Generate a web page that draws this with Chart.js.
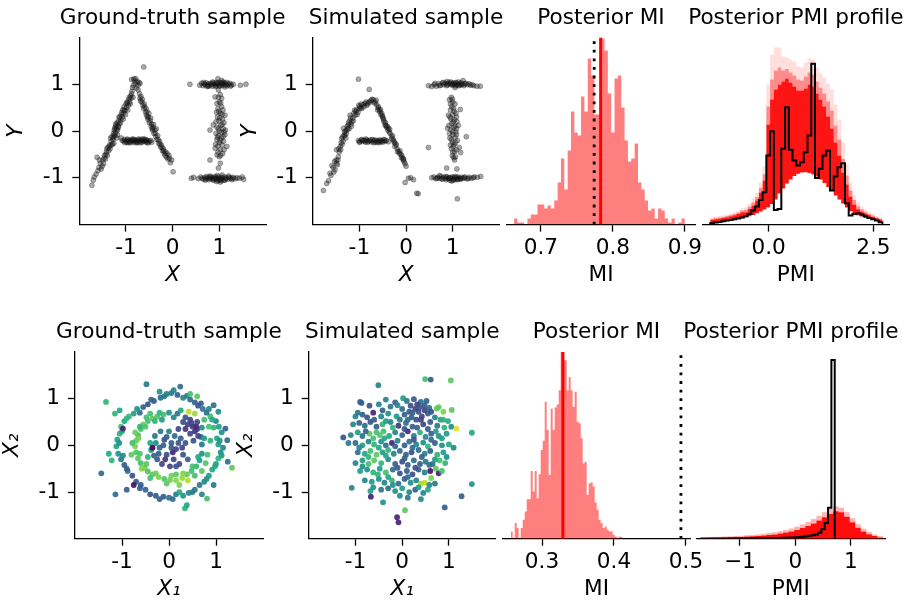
<!DOCTYPE html>
<html>
<head>
<meta charset="utf-8">
<script src="https://cdn.jsdelivr.net/npm/chart.js@4.4.1/dist/chart.umd.min.js"></script>
<style>
  body { margin: 0; background: #fff; }
  #fig { position: relative; width: 904px; height: 603px; overflow: hidden; background: #fff; }
  #fig canvas { position: absolute; }
</style>
</head>
<body>
<div id="fig"></div>
<script>
// ---- data ----
const sampleTicks = [-1, 0, 1];
const sampleTickLabels = ["-1", "0", "1"];

const aiTruth = [
  [-1.73,-1.16],[-1.68,-0.98],[-1.64,-0.92],[-1.62,-0.56],[-1.58,-0.78],[-1.55,-0.69],[-1.53,-0.81],[-1.50,-0.62],[-1.48,-0.70],[-1.46,-0.52],
  [-1.44,-0.60],[-1.42,-0.45],[-1.40,-0.52],[-1.39,-0.35],[-1.37,-0.42],[-1.35,-0.30],[-1.34,-0.38],[-1.32,-0.22],[-1.31,-0.30],[-1.30,-0.12],
  [-1.28,-0.18],[-1.27,-0.05],[-1.26,-0.26],[-1.25,0.02],[-1.24,-0.10],[-1.23,0.08],[-1.22,-0.03],[-1.21,0.12],[-1.20,0.04],[-1.19,0.18],
  [-1.18,-0.08],[-1.17,0.10],[-1.16,0.22],[-1.14,0.15],[-1.13,0.30],[-1.11,0.24],[-1.10,0.35],[-1.08,0.30],[-1.07,0.45],[-1.05,0.38],
  [-1.04,0.52],[-1.02,0.44],[-1.00,0.58],[-0.99,0.50],[-0.97,0.60],[-0.95,0.55],[-0.94,0.68],[-0.92,0.62],[-0.90,0.75],[-0.89,0.70],
  [-0.87,0.85],[-0.86,0.93],[-0.84,0.98],[-0.88,1.10],[-0.82,1.08],[-0.80,1.02],[-0.76,1.06],[-0.72,1.04],[-0.78,0.92],[-0.62,1.37],
  [-1.70,-1.05],[-1.60,-0.85],[-1.57,-0.62],[-1.51,-0.75],[-1.47,-0.58],[-1.43,-0.50],[-1.41,-0.38],[-1.36,-0.33],[-1.33,-0.15],[-1.29,-0.28],
  [-1.27,-0.14],[-1.25,-0.08],[-1.24,0.05],[-1.22,0.15],[-1.20,-0.15],[-1.18,0.02],[-1.16,0.08],[-1.15,0.30],[-1.12,0.18],[-1.09,0.40],
  [-1.06,0.25],[-1.04,0.45],[-1.01,0.35],[-0.98,0.62],[-0.96,0.45],[-0.93,0.72],[-0.91,0.58],[-0.88,0.80],[-0.85,0.72],[-0.83,1.12],
  [-0.79,1.12],[-0.74,0.98],[-0.70,1.02],
  [-0.74,0.88],[-0.71,0.80],[-0.70,0.70],[-0.68,0.74],[-0.66,0.62],[-0.64,0.55],[-0.62,0.48],[-0.60,0.52],[-0.58,0.40],[-0.56,0.34],
  [-0.55,0.42],[-0.53,0.25],[-0.52,0.30],[-0.50,0.18],[-0.48,0.22],[-0.46,0.10],[-0.45,0.15],[-0.43,0.02],[-0.42,0.08],[-0.40,-0.05],
  [-0.38,0.02],[-0.36,-0.12],[-0.34,-0.18],[-0.32,-0.10],[-0.30,-0.26],[-0.28,-0.22],[-0.26,-0.34],[-0.24,-0.30],[-0.22,-0.42],[-0.20,-0.38],
  [-0.18,-0.48],[-0.15,-0.45],[-0.13,-0.56],[-0.10,-0.60],[-0.08,-0.52],[-0.05,-0.68],[-0.02,-0.62],[0.01,-0.87],
  [-0.69,0.64],[-0.65,0.68],[-0.61,0.58],[-0.57,0.48],[-0.54,0.30],[-0.51,0.38],[-0.47,0.28],[-0.44,0.05],[-0.41,0.14],[-0.37,-0.05],
  [-0.35,0.05],[-0.31,-0.18],[-0.27,-0.28],[-0.23,-0.35],[-0.19,-0.42],[-0.16,-0.52],[-0.12,-0.48],[-0.07,-0.58],
  [-1.08,-0.20],[-1.05,-0.22],[-1.03,-0.18],[-1.00,-0.21],[-0.98,-0.24],[-0.96,-0.19],[-0.94,-0.22],[-0.92,-0.20],[-0.90,-0.23],[-0.88,-0.18],
  [-0.86,-0.21],[-0.84,-0.24],[-0.82,-0.20],[-0.80,-0.22],[-0.78,-0.19],[-0.76,-0.23],[-0.74,-0.20],[-0.72,-0.22],[-0.70,-0.18],[-0.68,-0.21],
  [-0.66,-0.24],[-0.64,-0.20],[-0.62,-0.22],[-0.60,-0.19],[-0.58,-0.23],[-0.56,-0.21],[-0.53,-0.20],[-0.50,-0.22],[-0.95,-0.25],[-0.85,-0.17],
  [-0.75,-0.25],[-0.65,-0.17],[-0.55,-0.25],[-1.10,-0.15],
  [-1.02,-0.25],[-0.97,-0.17],[-0.91,-0.25],[-0.83,-0.18],[-0.79,-0.25],[-0.73,-0.17],[-0.69,-0.25],[-0.61,-0.17],[-0.57,-0.18],[-0.52,-0.25],
  [-0.47,-0.20],[-0.45,-0.24],
  [0.37,1.00],[0.58,0.98],[0.62,1.02],[0.65,0.97],[0.68,1.01],[0.70,0.99],[0.72,1.03],[0.75,0.98],[0.77,1.01],[0.79,0.97],
  [0.81,1.02],[0.83,1.00],[0.85,0.96],[0.87,1.03],[0.89,0.99],[0.91,1.01],[0.93,0.97],[0.95,1.02],[0.97,1.00],[0.99,1.04],
  [1.01,0.98],[1.03,1.01],[1.05,0.97],[1.07,1.02],[1.09,0.99],[1.11,1.03],[1.13,0.98],[1.15,1.01],[1.17,0.97],[1.20,1.00],
  [1.23,1.02],[1.26,0.98],[1.30,1.00],[1.45,0.98],[1.57,1.00],[0.97,1.12],[1.05,1.08],[0.74,0.95],[1.12,0.94],
  [0.66,1.04],[0.76,0.96],[0.86,1.05],[0.92,0.95],[1.00,0.96],[1.08,1.05],[1.16,1.04],[1.24,0.96],[1.04,1.03],[0.94,1.04],
  [0.98,0.88],[1.02,0.78],[0.91,0.73],[0.98,0.72],[1.05,0.70],[0.95,0.59],[1.00,0.62],[1.05,0.52],[0.97,0.48],[1.08,0.45],
  [1.12,0.34],[1.02,0.38],[0.96,0.30],[1.07,0.25],[0.99,0.22],[1.10,0.18],[0.87,0.13],[1.03,0.12],[0.95,0.08],[1.08,0.05],
  [0.80,0.02],[1.00,0.00],[1.05,-0.03],[0.93,-0.05],[1.12,-0.08],[0.98,-0.10],[1.04,-0.15],[0.95,-0.18],[1.09,-0.22],[1.00,-0.25],
  [0.92,-0.28],[1.06,-0.30],[0.91,-0.37],[1.16,-0.33],[1.02,-0.40],[0.97,-0.45],[0.95,-0.51],[1.07,-0.48],[0.80,-0.62],[1.02,-0.69],
  [0.98,-0.79],[1.00,-0.55],[1.13,0.02],[0.99,0.42],
  [1.03,0.60],[0.94,0.40],[1.06,0.36],[1.01,0.28],[0.93,0.20],[1.06,0.14],[0.98,0.05],[1.10,-0.02],[0.96,-0.13],[1.08,-0.12],
  [1.02,-0.20],[0.97,-0.32],[1.10,-0.40],[1.03,-0.52],
  [0.40,-1.01],[0.45,-0.99],[0.55,-1.02],[0.60,-0.98],[0.63,-1.01],[0.66,-1.03],[0.69,-0.99],[0.71,-1.02],[0.73,-0.97],[0.75,-1.01],
  [0.77,-1.04],[0.79,-0.99],[0.81,-1.02],[0.83,-0.98],[0.85,-1.01],[0.87,-1.05],[0.89,-1.00],[0.91,-0.97],[0.93,-1.03],[0.95,-1.00],
  [0.97,-1.06],[0.99,-0.98],[1.01,-1.02],[1.03,-1.04],[1.05,-0.99],[1.07,-1.01],[1.09,-1.05],[1.11,-0.98],[1.13,-1.02],[1.15,-1.00],
  [1.18,-1.03],[1.21,-0.99],[1.24,-1.01],[1.27,-1.04],[1.30,-0.99],[1.34,-1.02],[1.38,-1.00],[1.43,-1.01],[1.49,-0.98],[1.52,-1.03],
  [0.94,-1.08],[1.02,-1.09],[1.06,-0.94],
  [0.70,-1.05],[0.80,-0.96],[0.88,-1.04],[0.96,-0.95],[1.04,-1.06],[1.12,-1.05],[1.20,-0.96],[1.28,-1.01],[1.00,-1.03],[0.92,-1.01]
];

const aiSim = [
  [-1.77,-1.27],[-1.66,-1.06],[-1.63,-0.90],[-1.59,-0.74],[-1.55,-0.88],[-1.52,-0.83],[-1.50,-0.62],[-1.49,-0.69],[-1.47,-0.72],[-1.45,-0.55],
  [-1.49,-0.40],[-1.43,-0.45],[-1.41,-0.33],[-1.40,-0.40],[-1.38,-0.16],[-1.37,-0.28],[-1.35,-0.22],[-1.34,0.06],[-1.33,-0.10],[-1.31,-0.09],
  [-1.30,0.00],[-1.28,-0.05],[-1.27,0.02],[-1.26,0.10],[-1.24,0.13],[-1.22,0.05],[-1.21,0.22],[-1.20,0.34],[-1.18,0.15],[-1.16,0.20],
  [-1.14,0.28],[-1.12,0.38],[-1.09,0.34],[-1.08,0.42],[-1.06,0.45],[-1.03,0.40],[-1.01,0.55],[-0.99,0.53],[-0.97,0.50],[-0.95,0.48],
  [-0.92,0.56],[-0.88,0.59],[-0.84,0.55],[-0.80,0.62],[-0.77,0.62],[-0.73,0.68],[-0.70,0.67],[-0.66,0.62],[-1.02,1.11],[-0.79,0.89],
  [-1.70,-1.12],[-1.61,-0.95],[-1.56,-0.78],[-1.53,-0.65],[-1.46,-0.62],[-1.44,-0.38],[-1.39,-0.25],[-1.36,-0.12],[-1.32,-0.02],[-1.29,-0.15],
  [-1.25,0.05],[-1.23,0.18],[-1.19,0.28],[-1.17,0.10],[-1.13,0.22],[-1.10,0.45],[-1.05,0.35],[-1.00,0.48],[-0.96,0.58],[-0.90,0.52],
  [-0.86,0.62],[-0.82,0.58],[-0.75,0.66],[-0.68,0.60],[-0.64,0.66],
  [-0.63,0.56],[-0.60,0.50],[-0.59,0.52],[-0.57,0.45],[-0.56,0.41],[-0.54,0.35],[-0.52,0.38],[-0.50,0.30],[-0.49,0.27],[-0.47,0.20],
  [-0.45,0.13],[-0.44,0.18],[-0.42,0.08],[-0.40,0.10],[-0.38,0.06],[-0.36,-0.02],[-0.34,-0.05],[-0.31,-0.12],[-0.29,-0.10],[-0.27,-0.19],
  [-0.25,-0.25],[-0.24,-0.33],[-0.21,-0.30],[-0.19,-0.38],[-0.16,-0.44],[-0.13,-0.42],[-0.11,-0.50],[-0.09,-0.53],[-0.07,-0.58],[-0.06,-0.62],
  [-0.04,-0.66],[-0.02,-0.70],[-0.02,-1.10],[0.05,-1.01],[0.16,-1.04],[0.26,-1.34],[0.23,-1.33],
  [-0.61,0.45],[-0.55,0.46],[-0.51,0.33],[-0.48,0.24],[-0.43,0.12],[-0.39,0.02],[-0.35,0.04],[-0.30,-0.16],[-0.26,-0.22],[-0.22,-0.27],
  [-0.18,-0.44],[-0.14,-0.48],[-0.10,-0.57],[-0.05,-0.60],[0.00,-0.75],[0.10,-1.00],
  [-1.02,-0.20],[-0.99,-0.23],[-0.96,-0.19],[-0.93,-0.22],[-0.90,-0.20],[-0.87,-0.24],[-0.84,-0.19],[-0.81,-0.22],[-0.78,-0.20],[-0.75,-0.23],
  [-0.72,-0.18],[-0.69,-0.21],[-0.66,-0.24],[-0.63,-0.20],[-0.60,-0.22],[-0.57,-0.19],[-0.54,-0.23],[-0.51,-0.21],[-0.48,-0.18],[-0.45,-0.22],
  [-0.42,-0.20],[-0.38,-0.23],[-0.86,-0.17],[-0.70,-0.25],[-0.58,-0.25],
  [-1.00,-0.24],[-0.94,-0.18],[-0.88,-0.21],[-0.82,-0.24],[-0.76,-0.19],[-0.67,-0.19],[-0.62,-0.24],[-0.55,-0.20],[-0.50,-0.24],[-0.46,-0.19],
  [0.48,0.97],[0.55,0.95],[0.60,0.99],[0.65,0.96],[0.70,1.01],[0.74,0.98],[0.78,1.03],[0.81,0.99],[0.84,1.02],[0.87,0.97],
  [0.90,1.01],[0.92,1.04],[0.95,0.99],[0.97,1.02],[1.00,0.98],[1.02,1.03],[1.04,1.00],[1.06,0.97],[1.08,1.02],[1.10,0.99],
  [1.12,1.05],[1.14,1.01],[1.16,0.98],[1.18,1.03],[1.21,1.00],[1.24,0.97],[1.28,1.02],[1.32,0.99],[1.38,0.98],[1.45,0.97],
  [1.52,0.96],[1.59,0.96],[1.22,1.08],[0.88,1.06],[1.05,0.93],
  [0.62,1.02],[0.72,0.97],[0.80,1.04],[0.89,0.99],[0.96,1.05],[1.01,1.00],[1.07,1.04],[1.13,0.97],[1.19,1.00],[1.26,1.01],
  [1.35,1.01],[1.42,0.99],
  [0.93,0.67],[0.97,0.72],[1.00,0.62],[0.98,0.52],[1.05,0.58],[1.16,0.46],[0.95,0.45],[1.03,0.42],[0.91,0.34],[1.00,0.35],
  [1.08,0.30],[0.96,0.26],[1.04,0.24],[1.09,0.20],[0.98,0.16],[1.12,0.12],[0.89,0.06],[1.02,0.08],[0.96,0.02],[1.07,-0.02],
  [1.29,-0.12],[1.00,-0.08],[1.05,-0.14],[0.94,-0.15],[1.10,-0.20],[0.99,-0.24],[1.03,-0.29],[1.01,-0.33],[1.14,-0.35],[0.97,-0.38],
  [1.17,-0.46],[0.99,-0.53],[1.04,-0.44],[0.48,-0.35],[0.87,-0.79],[1.09,-0.81],[1.08,0.05],[0.93,-0.05],[1.06,-0.55],[1.02,-0.57],
  [0.99,0.68],[0.95,0.58],[1.02,0.48],[1.07,0.38],[0.94,0.30],[1.01,0.20],[1.05,0.10],[0.92,0.12],[1.00,-0.02],[1.08,-0.08],
  [0.97,-0.18],[1.06,-0.25],[0.95,-0.30],[1.08,-0.40],[1.00,-0.45],[1.04,-0.62],
  [0.55,-1.00],[0.60,-0.98],[0.64,-1.02],[0.68,-0.99],[0.72,-1.01],[0.75,-0.97],[0.78,-1.03],[0.81,-0.99],[0.84,-1.01],[0.86,-1.04],
  [0.88,-0.98],[0.90,-1.02],[0.92,-1.00],[0.94,-1.05],[0.96,-0.99],[0.98,-1.02],[1.00,-0.98],[1.02,-1.03],[1.04,-1.00],[1.06,-1.04],
  [1.08,-0.99],[1.10,-1.02],[1.12,-0.98],[1.14,-1.01],[1.16,-1.03],[1.19,-0.99],[1.22,-1.01],[1.26,-0.98],[1.30,-1.02],[1.35,-0.99],
  [1.40,-1.01],[1.46,-0.98],[1.53,-0.99],[1.60,-0.97],[1.10,-1.45],[0.98,-1.07],[0.72,-0.95],
  [0.66,-1.01],[0.76,-1.02],[0.85,-0.97],[0.93,-1.01],[1.01,-1.05],[1.05,-0.97],[1.11,-1.04],[1.18,-1.02],[1.25,-1.00],[1.33,-1.02],
  [1.44,-1.00]
];

// [x1, x2, colour value 0..1]
const ringTruth = [
  [1.05,0.02,.55],[1.15,-0.05,.45],[1.02,0.15,.6],[1.12,0.28,.5],[0.95,0.38,.65],[1.00,0.52,.45],[0.88,0.62,.7],[0.80,0.70,.35],[0.72,0.78,.4],[0.62,0.85,.25],
  [0.55,0.92,.3],[0.45,0.98,.35],[0.30,1.02,.45],[0.18,1.08,.3],[0.05,1.12,.4],[-0.05,1.10,.45],[-0.18,1.02,.35],[-0.32,0.95,.3],[-0.45,0.88,.25],[-0.55,0.82,.3],
  [-0.62,0.70,.35],[-0.75,0.68,.55],[-0.85,0.62,.68],[-0.95,0.52,.6],[-1.02,0.40,.7],[-1.05,0.25,.65],[-1.10,0.12,.55],[-1.12,-0.02,.6],[-1.08,-0.18,.5],[-1.02,-0.30,.4],
  [-0.95,-0.42,.3],[-0.88,-0.55,.35],[-0.78,-0.65,.25],[-0.70,-0.78,.3],[-0.60,-0.85,.28],[-0.50,-0.95,.32],[-0.40,-1.05,.25],[-0.28,-1.08,.3],[-0.12,-1.10,.3],[0.00,-1.12,.35],
  [0.15,-1.05,.4],[0.30,-1.08,.5],[0.42,-1.02,.45],[0.55,-0.95,.42],[0.65,-0.85,.4],[0.75,-0.78,.45],[0.85,-0.65,.55],[0.92,-0.52,.6],[1.00,-0.40,.55],[1.05,-0.28,.65],
  [1.10,-0.15,.5],
  [1.08,0.10,.5],[1.06,0.40,.55],[0.92,0.55,.6],[0.68,0.90,.3],[0.38,1.06,.4],[-0.10,1.05,.4],[-0.38,0.98,.3],[-0.68,0.78,.5],[-0.90,0.58,.65],[-1.00,0.30,.6],
  [-1.06,0.05,.5],[-0.98,-0.22,.45],[-0.90,-0.50,.3],[-0.62,-0.92,.3],[-0.20,-1.15,.3],[0.08,-1.15,.35],[0.22,-1.00,.6],[0.50,-1.00,.4],[0.80,-0.72,.5],[0.98,-0.45,.6],
  [1.12,-0.22,.55],[0.85,0.78,.45],
  [-0.48,1.31,.4],[0.24,1.26,.35],[-1.34,0.93,.65],[-1.44,-0.60,.35],[-1.14,-1.05,.35],[0.34,-1.35,.65],[0.38,-1.28,.6],[0.81,-1.14,.7],[1.34,-0.48,.75],[1.24,0.11,.35],
  [1.20,0.36,.3],[0.95,0.86,.35],[1.05,0.72,.5],[-1.28,-0.18,.6],[-1.22,-0.32,.65],[-1.15,0.68,.65],[-1.05,0.75,.6],[0.60,1.05,.75],[0.45,1.10,.7],[-0.20,1.15,.5],
  [0.10,1.18,.45],[0.70,-1.05,.45],[0.95,-0.85,.4],[-0.90,-0.95,.3],[-0.75,-0.85,.05],[-0.98,0.36,.1],[1.25,-0.35,.35],
  [0.70,0.02,.4],[0.68,0.18,.35],[0.60,0.35,.2],[0.48,0.48,.2],[0.35,0.60,.25],[0.18,0.68,.35],[0.00,0.70,.5],[-0.12,0.66,.7],[-0.25,0.62,.72],[-0.35,0.58,.75],
  [-0.45,0.52,.7],[-0.55,0.45,.78],[-0.60,0.35,.72],[-0.66,0.22,.68],[-0.70,0.10,.75],[-0.72,-0.02,.8],[-0.70,-0.15,.72],[-0.66,-0.28,.75],[-0.60,-0.38,.7],[-0.52,-0.48,.78],
  [-0.45,-0.56,.72],[-0.35,-0.62,.75],[-0.22,-0.68,.8],[-0.10,-0.72,.72],[0.02,-0.74,.78],[0.15,-0.75,.82],[0.28,-0.70,.85],[0.38,-0.62,.75],[0.48,-0.55,.7],[0.58,-0.45,.65],
  [0.65,-0.32,.55],[0.70,-0.18,.5],
  [-0.62,0.40,.65],[-0.72,0.28,.78],[-0.78,0.05,.7],[-0.80,-0.20,.75],[-0.58,-0.50,.82],[-0.40,-0.70,.7],[-0.05,-0.82,.75],[0.22,-0.85,.8],[0.40,-0.75,.88],[0.55,-0.65,.7],
  [-0.30,0.52,.65],[-0.48,0.60,.7],[-0.15,0.55,.55],[0.10,0.60,.45],[0.42,0.72,.9],[0.55,0.68,.85],[0.75,0.55,.7],[0.85,0.40,.7],[0.88,0.10,.65],[0.82,-0.20,.7],
  [0.78,-0.38,.72],[0.70,-0.55,.75],
  [-0.50,0.40,.72],[-0.65,0.15,.8],[-0.62,-0.18,.72],[-0.48,-0.40,.75],[-0.28,-0.60,.78],[0.05,-0.65,.8],[0.30,-0.60,.82],[0.50,-0.45,.7],[0.62,-0.25,.6],[0.75,0.15,.55],
  [0.70,0.38,.5],[-0.20,0.70,.65],[-0.40,0.68,.7],[0.25,0.75,.6],[0.15,-0.62,.75],
  [0.05,0.05,.3],[-0.10,0.12,.25],[0.15,-0.08,.2],[-0.05,-0.20,.25],[0.25,0.15,.3],[-0.20,-0.05,.35],[0.10,-0.30,.2],[-0.25,-0.30,.28],[0.30,-0.20,.25],[-0.30,0.20,.4],
  [0.00,0.30,.45],[0.20,0.35,.22],[0.35,0.05,.25],[-0.38,-0.10,.55],[-0.15,-0.40,.2],[0.22,-0.40,.22],[0.40,-0.30,.3],[-0.40,0.05,.6],[0.45,0.25,.2],[0.50,0.40,.18],
  [0.55,0.30,.15],[0.60,0.50,.22],[0.40,0.45,.2],[0.30,0.50,.25],[0.62,0.20,.2],[0.52,0.10,.25],[-0.32,-0.22,.3],[-0.08,-0.30,.15],[0.02,-0.45,.2],[-0.45,-0.25,.65],
  [-0.28,0.05,.5],[0.12,0.20,.35],[-0.18,0.30,.4],[0.08,-0.15,.1],[-0.35,-0.05,.02],
  [-0.12,0.00,.3],[0.20,0.05,.25],[0.28,-0.05,.2],[-0.05,0.18,.3],[0.35,0.35,.15],[0.45,0.55,.2],[0.58,0.40,.12],[0.15,-0.45,.25],[-0.22,-0.18,.3],[0.05,-0.05,.28]
];

const ringSim = [
  [-0.35,0.98,.45],[0.02,1.01,.55],[0.10,0.95,.4],[0.25,0.99,.3],[0.40,0.93,.35],[-0.15,0.92,.3],
  [-0.90,0.93,.3],[-0.70,0.85,.25],[-0.50,0.88,.45],[-0.25,0.83,.4],[-0.10,0.86,.45],[0.18,0.85,.25],[0.32,0.88,.2],[0.48,0.85,.3],[0.58,0.80,.35],[0.78,0.82,.75],[0.88,0.72,.8],
  [-1.00,0.62,.45],[-0.85,0.66,.3],[-0.75,0.60,.25],[-0.62,0.70,.1],[-0.45,0.62,.45],[-0.30,0.68,.5],[-0.12,0.62,.55],[0.05,0.66,.3],[0.20,0.60,.3],[0.35,0.72,.25],
  [0.42,0.62,.2],[0.55,0.68,.3],[0.70,0.60,.45],[0.82,0.55,.55],[0.98,0.52,.6],
  [-1.05,0.45,.45],[-0.92,0.48,.3],[-0.80,0.42,.35],[-0.68,0.50,.25],[-0.55,0.40,.3],[-0.42,0.45,.65],[-0.25,0.50,.45],[-0.08,0.42,.15],[0.08,0.48,.35],[0.22,0.40,.3],
  [0.30,0.55,.25],[0.45,0.45,.2],[0.60,0.50,.3],[0.75,0.42,.4],[0.90,0.38,.65],[1.05,0.40,.5],
  [-1.10,0.22,.45],[-0.95,0.28,.55],[-0.85,0.20,.35],[-0.70,0.25,.75],[-0.55,0.28,.7],[-0.48,0.22,.72],[-0.40,0.30,.7],[-0.28,0.20,.6],[-0.15,0.28,.45],[0.00,0.22,.3],
  [0.12,0.30,.1],[0.25,0.20,.4],[0.38,0.28,.65],[0.50,0.18,.45],[0.62,0.25,.3],[0.78,0.20,.5],[0.95,0.25,.55],
  [-1.00,0.05,.35],[-0.85,0.00,.55],[-0.72,0.08,.45],[-0.60,0.02,.65],[-0.45,0.08,.5],[-0.35,0.00,.35],[-0.22,0.05,.1],[-0.10,0.10,.45],[0.05,0.00,.3],[0.15,0.08,.35],
  [0.30,0.02,.45],[0.45,0.06,.5],[0.55,-0.02,.65],[0.70,0.05,.3],[0.85,0.00,.5],[1.00,0.02,.6],[1.10,-0.05,.45],
  [-0.95,-0.15,.35],[-0.80,-0.18,.6],[-0.68,-0.12,.7],[-0.55,-0.20,.75],[-0.42,-0.15,.55],[-0.30,-0.10,.65],[-0.18,-0.18,.45],[-0.05,-0.12,.35],[0.08,-0.20,.3],[0.20,-0.15,.25],
  [0.35,-0.10,.35],[0.48,-0.18,.45],[0.60,-0.12,.3],[0.75,-0.20,.65],[0.88,-0.15,.55],
  [-1.00,-0.38,.45],[-0.85,-0.32,.55],[-0.72,-0.40,.7],[-0.60,-0.32,.75],[-0.45,-0.38,.65],[-0.30,-0.30,.5],[-0.15,-0.40,.3],[0.00,-0.35,.25],[0.12,-0.42,.3],[0.25,-0.32,.35],
  [0.38,-0.40,.3],[0.50,-0.35,.4],[0.65,-0.40,.35],[0.80,-0.32,.7],[0.92,-0.38,.65],
  [-0.90,-0.55,.55],[-0.75,-0.52,.5],[-0.62,-0.58,.65],[-0.48,-0.50,.55],[-0.35,-0.58,.7],[-0.20,-0.52,.35],[-0.05,-0.60,.25],[0.10,-0.55,.3],[0.22,-0.62,.25],[0.35,-0.52,.3],
  [0.48,-0.58,.45],[0.60,-0.55,.05],[0.72,-0.50,.75],[0.78,-0.60,.1],[0.85,-0.55,.7],
  [-0.80,-0.75,.45],[-0.65,-0.78,.55],[-0.50,-0.72,.5],[-0.38,-0.80,.45],[-0.22,-0.75,.65],[-0.08,-0.82,.35],[0.05,-0.72,.3],[0.18,-0.80,.5],[0.30,-0.75,.45],[0.40,-0.82,.85],
  [0.48,-0.80,.9],[0.58,-0.85,.45],[0.70,-0.82,.4],
  [-0.68,-0.98,.55],[-0.45,-0.95,.4],[-0.30,-0.92,.35],[-0.15,-0.98,.5],[0.00,-0.92,.55],[0.15,-1.00,.45],[0.28,-0.95,.3],[0.45,-1.02,.45],[0.55,-0.95,.6],
  [-0.05,-1.08,.5],[0.12,-1.12,.4],[0.40,-1.15,.45],
  [0.28,0.78,.2],[0.38,0.82,.25],[0.22,0.70,.3],[0.48,0.75,.2],
  [-0.95,0.70,.4],[-0.60,0.55,.3],[-0.35,0.52,.55],[0.15,0.72,.3],[0.62,0.72,.25],[0.72,0.30,.55],[-0.62,0.15,.7],[-0.38,0.15,.6],[-0.20,0.38,.65],[0.05,0.35,.25],
  [0.32,0.38,.3],[0.55,0.35,.3],[0.85,0.15,.55],[-0.92,-0.05,.45],[-0.50,-0.05,.6],[-0.15,-0.02,.3],[0.22,-0.05,.35],[0.62,0.12,.35],[0.95,-0.25,.5],[-0.72,-0.25,.65],
  [-0.35,-0.22,.6],[0.05,-0.28,.3],[0.42,-0.25,.3],[0.70,-0.30,.55],[-0.85,-0.45,.5],[-0.52,-0.62,.65],[-0.10,-0.48,.3],[0.28,-0.48,.25],[0.58,-0.42,.35],[-0.62,-0.90,.5],
  [-0.30,-0.68,.6],[0.12,-0.68,.35],[0.35,-0.90,.55],[0.62,-0.70,.8],[-0.42,0.75,.3],[0.00,0.78,.35],[0.52,0.95,.3],[-0.78,0.30,.3],[0.88,0.55,.65],[-1.15,0.05,.4],
  [-0.20,-0.85,.5],[0.25,0.12,.25],[0.40,0.55,.2],[0.12,0.55,.35],[-0.05,0.55,.4],
  [0.49,1.42,.7],[0.61,1.41,.3],[1.04,1.39,.75],[-0.51,1.29,.45],[-1.26,0.17,.25],[1.49,0.27,.6],[1.49,-0.83,.5],[1.27,-1.09,.3],[0.91,-1.33,.3],[0.06,-1.39,.75],
  [-0.11,-1.54,.1],[-0.08,-1.65,.1],[-1.08,-0.91,.45],[-0.67,-1.10,.1],[-0.41,-1.22,.5],[1.16,0.36,.95],[0.74,0.79,.75],[1.06,0.76,.75],[-0.87,0.91,.3]
];

const mi1Ticks = [0.7, 0.8, 0.9];
const mi1TickLabels = ["0.7", "0.8", "0.9"];
const mi1BinStart = 0.6628;
const mi1BinWidth = 0.00465;
const mi1Counts = [6,2,2,0,6,10,10,20,20,16,19,16,24,42,66,35,74,113,92,89,128,113,166,149,110,110,186,174,131,92,
  146,149,117,84,63,66,81,42,35,24,14,16,6,16,14,6,2,6,0,2,6];
const mi1True = 0.774;
const mi1Mean = 0.783;

const pmi1Ticks = [0, 2.5];
const pmi1TickLabels = ["0.0", "2.5"];
const pmi1BinStart = -1.3978;
const pmi1BinWidth = 0.08946;
const pmi1True = [1.3,2,2.7,3.3,4,4.7,5.3,6,7,8.3,10.7,14,18,24.7,32.3,69,93.3,14.7,15.7,75.7,117.3,74.7,64,59,62.3,72.3,89,160.7,46.7,55.7,
  69,74,34,48,57.3,61.3,21.3,9,10.7,11.3,10,8.3,6.7,5.3,4,2.3];
// posterior band: lowest sample, dense core top, lighter spread, highest sample
const pmi1Low = [1,1.7,2.3,3,3.7,4.3,5,5.7,6.3,7.3,8.3,9.7,11.3,13,15,17.3,20.7,25,31,36,41,45,48.5,50.7,52,52.3,51.5,50,48,45,
  41.5,37.5,33.5,29,25,21,17,13.5,11,9.3,8,6.7,5.7,4.7,3.7,2.7];
const pmi1Core = [4.7,5.3,6,6.7,7.3,8.3,9.3,10.7,12.3,12.3,15.7,19,24,32,44,100,125,135,140,143,146,142,138,134,134,136,140,138,131,125,
  118,108,96,82,69,52,40,28,20,15.3,13,11,9.3,7.7,6.3,5];
const pmi1Mid = [5.9,6.5,7.2,7.9,8.5,9.7,10.7,12.2,14,14.6,18.1,22.2,27.6,36.5,50.3,118,145,154,157,154,155.5,152,149,145,144,148,152,150,143,137,
  131,123,114,99,85,65.5,49,34,24.5,18.3,15.3,12.8,10.8,9.1,7.4,5.9];
const pmi1Max = [7.3,8,8.7,9.3,10,11.3,12.3,14,16,17,21,26,32,42,58,140,170,177,177,168,167,165,163,158,157,162,166,165,157,151,
  147,141,135,120,105,82,60,42,30,22,18,15,12.7,10.7,8.7,7];

const mi2Ticks = [0.3, 0.4, 0.5];
const mi2TickLabels = ["0.3", "0.4", "0.5"];
const mi2BinStart = 0.2565;
const mi2BinWidth = 0.002778;
const mi2Counts = [7.3,0,15.7,10.7,0,10.7,19,27.3,39.7,39.7,68,47.3,68,40.7,64.7,89,98.3,137.3,109,64,130.7,109,131.7,134.7,149,187.3,179,179,149,162.3,
  149,132.3,147.3,117.3,115.7,100.7,75.7,77.3,44,55.7,56.3,52.3,36.3,29,19,15.7,10.7,12.3,9,7.3,7.3,4,2.3,1,2.3,1.7];
const mi2True = 0.493;
const mi2Mean = 0.329;

const pmi2Ticks = [-1, 0, 1];
const pmi2TickLabels = ["\u22121", "0", "1"];
const pmi2BinStart = -1.69;
const pmi2BinWidth = 0.06;
const pmi2True = [0.2,0.2,0.2,0.2,0.2,0.2,0.2,0.2,0.2,0.2,0.3,0.3,0.3,0.3,0.3,0.4,0.4,0.5,0.5,0.6,
  0.6,0.7,0.7,0.8,0.9,1.0,1.1,1.2,1.4,1.7,2.0,2.4,2.9,3.5,4.3,6.0,9.5,15.7,31,179];
const pmi2BandStart = -1.62;
const pmi2BandWidth = 0.1;
const pmi2Core = [0.8,0.9,1.0,1.2,1.4,1.6,1.8,2.1,2.4,2.8,3.2,3.7,4.3,5.1,6.1,7.3,8.8,10.6,12.8,15.3,
  18.2,21.5,24.8,27.5,26.5,22,16.5,11,7.2,4.5,2.6,1.3];
const pmi2Max = [1.5,1.7,1.9,2.1,2.4,2.7,3.0,3.4,3.8,4.3,4.9,5.6,6.4,7.4,8.6,10.1,12.0,14.2,16.8,19.8,
  23.0,26.5,30,32.5,31,26.5,20.5,14.5,10.0,6.8,4.3,2.5];

// ---- drawing ----
const FAMILY = "'DejaVu Sans', 'Liberation Sans', sans-serif";
const FS = 21.6;
const LH = FS * 1.2;
const fig = document.getElementById("fig");
const VIRIDIS = ["#440154","#482475","#414487","#355f8d","#2a788e","#21918c","#22a884","#44bf70","#7ad151","#bddf26","#fde725"];

const hexRgb = h => [1, 3, 5].map(i => parseInt(h.slice(i, i + 2), 16));
const viridis = c => {
    const t = Math.max(0, Math.min(1, c)) * 10;
    const i = Math.min(9, Math.floor(t));
    const f = t - i;
    const a = hexRgb(VIRIDIS[i]);
    const b = hexRgb(VIRIDIS[i + 1]);
    const m = a.map((v, k) => Math.round(v + (b[k] - v) * f));
    return `rgba(${m[0]},${m[1]},${m[2]},0.92)`;
};

// panel title centred on the plot area, like matplotlib's set_title
const panelTitle = {
    id: "panelTitle",
    afterDraw(chart, args, opts) {
        const { ctx, chartArea } = chart;
        ctx.save();
        ctx.font = `${FS}px ${FAMILY}`;
        ctx.fillStyle = "#000";
        ctx.textAlign = "center";
        ctx.textBaseline = "middle";
        ctx.fillText(opts.text, (chartArea.left + chartArea.right) / 2, chartArea.top - 19.6);
        ctx.restore();
    }
};

// step outline for a histogram: left edges + closing right edge
const stepPoints = (start, width, values) => {
    const pts = [{ x: start, y: 0 }];
    values.forEach((v, i) => pts.push({ x: start + i * width, y: v }));
    pts.push({ x: start + values.length * width, y: 0 });
    return pts;
};

const vline = (x, ymax, color, width, dash) => ({
    type: "line",
    data: [{ x, y: 0 }, { x, y: ymax }],
    borderColor: color,
    borderWidth: width,
    borderDash: dash || [],
    borderCapStyle: "butt",
    pointRadius: 0,
    showLine: true,
    fill: false
});

const stepLine = (pts, opts) => Object.assign({
    type: "line",
    data: pts,
    stepped: true,
    pointRadius: 0,
    showLine: true,
    tension: 0,
    borderWidth: 0,
    borderColor: "rgba(0,0,0,0)",
    fill: false
}, opts);

const tickAxis = (min, max, ticks, labels, title, italic, isX, size) => ({
    type: "linear",
    min,
    max,
    bounds: "data",
    afterBuildTicks: scale => { scale.ticks = ticks.map(v => ({ value: v })); },
    afterFit: scale => { if (isX) { scale.height = size; } else { scale.width = size; } },
    ticks: {
        callback: v => labels[ticks.indexOf(v)],
        color: "#000",
        font: { family: FAMILY, size: FS },
        padding: isX ? 4 : 8,
        autoSkip: false,
        maxRotation: 0
    },
    grid: {
        display: true,
        drawOnChartArea: false,
        drawTicks: true,
        tickLength: 7,
        tickWidth: 1.3,
        tickColor: "#000",
        color: "#000"
    },
    border: { display: true, color: "#000", width: 1.3 },
    title: {
        display: true,
        text: title,
        color: "#000",
        font: { family: FAMILY, size: FS, style: italic ? "italic" : "normal", lineHeight: 1.2 },
        padding: isX ? { top: 0, bottom: 6.5 } : { top: size - 62.6 - LH / 2, bottom: 0 }
    }
});

const addPanel = panel => {
    const { area } = panel;
    const leftNominal = panel.hist ? 30 : 79;
    const cl = Math.floor(area.l - leftNominal);
    const ct = Math.floor(area.t - 38);
    const ls = area.l - cl;
    const ts = area.t - ct;
    const w = area.r - area.l;
    const h = area.b - area.t;
    const cw = Math.ceil(ls + w + 26);
    const ch = Math.ceil(ts + h + 70);

    const canvas = document.createElement("canvas");
    canvas.width = cw;
    canvas.height = ch;
    canvas.style.left = cl + "px";
    canvas.style.top = ct + "px";
    canvas.style.width = cw + "px";
    canvas.style.height = ch + "px";
    fig.appendChild(canvas);

    new Chart(canvas, {
        type: "scatter",
        data: { datasets: panel.datasets },
        plugins: [panelTitle],
        options: {
            responsive: false,
            animation: false,
            devicePixelRatio: 1,
            layout: {
                padding: { left: panel.hist ? ls : 0, top: ts, right: cw - ls - w, bottom: ch - ts - h - 70 }
            },
            plugins: {
                legend: { display: false },
                tooltip: { enabled: false },
                title: { display: false },
                panelTitle: { text: panel.title }
            },
            scales: {
                x: tickAxis(panel.x.min, panel.x.max, panel.x.ticks, panel.x.labels, panel.x.title, panel.x.italic, true, 70),
                y: panel.hist
                    ? { type: "linear", display: false, min: 0, max: panel.ymax }
                    : tickAxis(-2, 2, sampleTicks, sampleTickLabels, panel.yTitle, true, false, ls)
            }
        }
    });
};

const blackCloud = pts => ({
    data: pts.map(([x, y]) => ({ x, y })),
    pointRadius: 2.5,
    backgroundColor: "rgba(30,30,30,0.38)",
    borderColor: "rgba(0,0,0,0.32)",
    borderWidth: 0.8
});

const colourCloud = pts => ({
    data: pts.map(([x, y]) => ({ x, y })),
    pointRadius: 2.9,
    backgroundColor: pts.map(p => viridis(p[2])),
    borderWidth: 0
});

const sampleAxis = title => ({ min: -2, max: 2, ticks: sampleTicks, labels: sampleTickLabels, title, italic: true });

// row 1
addPanel({
    area: { l: 79.3, t: 37.5, r: 266, b: 224.6 },
    title: "Ground-truth sample",
    x: sampleAxis("X"),
    yTitle: "Y",
    datasets: [blackCloud(aiTruth)]
});
addPanel({
    area: { l: 312.7, t: 37.5, r: 499.4, b: 224.6 },
    title: "Simulated sample",
    x: sampleAxis("X"),
    yTitle: "Y",
    datasets: [blackCloud(aiSim)]
});
addPanel({
    hist: true,
    area: { l: 507, t: 37.5, r: 695, b: 224.6 },
    title: "Posterior MI",
    ymax: 187,
    x: { min: 0.653, max: 0.914, ticks: mi1Ticks, labels: mi1TickLabels, title: "MI", italic: false },
    datasets: [
        vline(mi1True, 187, "#000", 2.8, [2.8, 5.8]),
        vline(mi1Mean, 187, "#ff0000", 3),
        stepLine(stepPoints(mi1BinStart, mi1BinWidth, mi1Counts), { fill: "origin", backgroundColor: "rgba(255,0,0,0.5)" })
    ]
});
addPanel({
    hist: true,
    area: { l: 702.7, t: 37.5, r: 889, b: 224.6 },
    title: "Posterior PMI profile",
    ymax: 187,
    x: { min: -1.577, max: 2.875, ticks: pmi1Ticks, labels: pmi1TickLabels, title: "PMI", italic: false },
    datasets: [
        stepLine(stepPoints(pmi1BinStart, pmi1BinWidth, pmi1True), { borderColor: "#000", borderWidth: 2 }),
        stepLine(stepPoints(pmi1BinStart, pmi1BinWidth, pmi1Low)),
        stepLine(stepPoints(pmi1BinStart, pmi1BinWidth, pmi1Core), { fill: "-1", backgroundColor: "rgba(255,0,0,0.92)" }),
        stepLine(stepPoints(pmi1BinStart, pmi1BinWidth, pmi1Mid), { fill: "-1", backgroundColor: "rgba(255,0,0,0.45)" }),
        stepLine(stepPoints(pmi1BinStart, pmi1BinWidth, pmi1Max), { fill: "-1", backgroundColor: "rgba(255,0,0,0.13)" })
    ]
});

// row 2
addPanel({
    area: { l: 75, t: 352, r: 263, b: 538.7 },
    title: "Ground-truth sample",
    x: sampleAxis("X\u2081"),
    yTitle: "X\u2082",
    datasets: [colourCloud(ringTruth)]
});
addPanel({
    area: { l: 308.7, t: 352, r: 495.7, b: 538.7 },
    title: "Simulated sample",
    x: sampleAxis("X\u2081"),
    yTitle: "X\u2082",
    datasets: [colourCloud(ringSim)]
});
addPanel({
    hist: true,
    area: { l: 503, t: 352, r: 690, b: 538.7 },
    title: "Posterior MI",
    ymax: 187.3,
    x: { min: 0.2458, max: 0.5056, ticks: mi2Ticks, labels: mi2TickLabels, title: "MI", italic: false },
    datasets: [
        vline(mi2True, 187.3, "#000", 2.8, [2.8, 5.8]),
        vline(mi2Mean, 187.3, "#ff0000", 3),
        stepLine(stepPoints(mi2BinStart, mi2BinWidth, mi2Counts), { fill: "origin", backgroundColor: "rgba(255,0,0,0.5)" })
    ]
});
addPanel({
    hist: true,
    area: { l: 696.7, t: 352, r: 885, b: 538.7 },
    title: "Posterior PMI profile",
    ymax: 187,
    x: { min: -1.777, max: 1.616, ticks: pmi2Ticks, labels: pmi2TickLabels, title: "PMI", italic: false },
    datasets: [
        stepLine(stepPoints(pmi2BinStart, pmi2BinWidth, pmi2True), { borderColor: "#000", borderWidth: 2 }),
        stepLine(stepPoints(pmi2BandStart, pmi2BandWidth, pmi2Core), { fill: "origin", backgroundColor: "rgba(255,0,0,0.95)" }),
        stepLine(stepPoints(pmi2BandStart, pmi2BandWidth, pmi2Max), { fill: "-1", backgroundColor: "rgba(255,0,0,0.3)" })
    ]
});
</script>
</body>
</html>
